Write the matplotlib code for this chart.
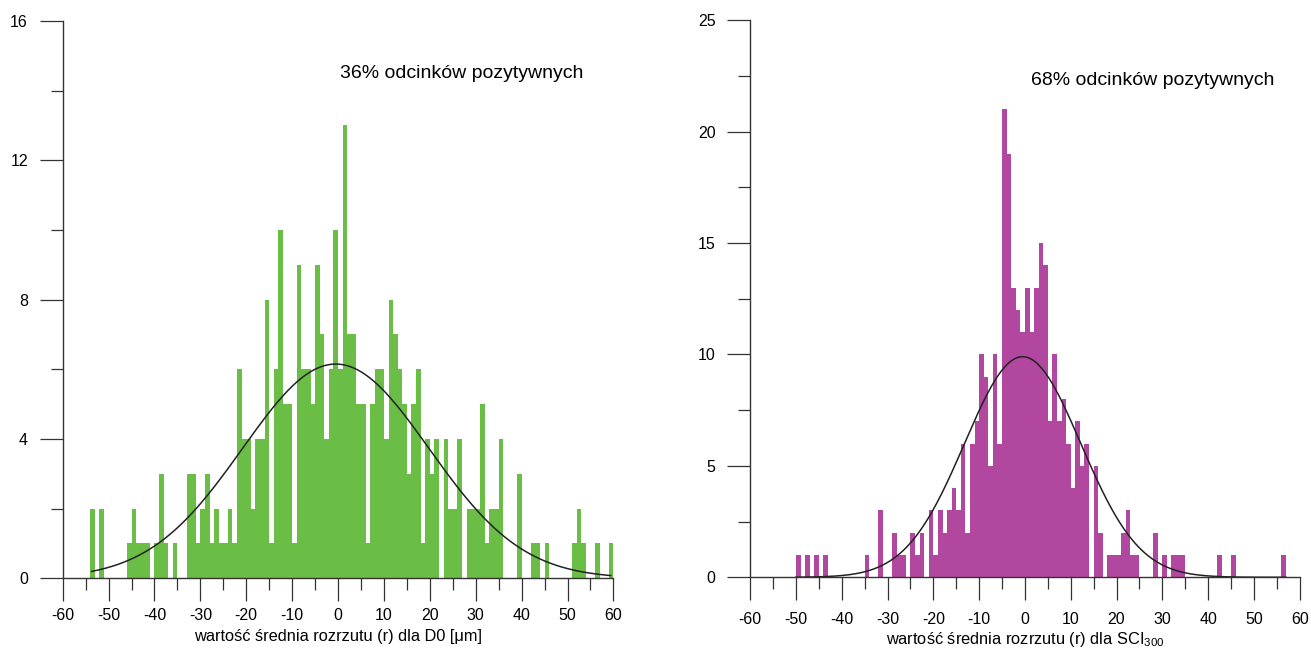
import numpy as np
import matplotlib
matplotlib.use("Agg")
import matplotlib.pyplot as plt
from matplotlib.ticker import MultipleLocator

plt.rcParams["font.family"] = ["Liberation Sans", "DejaVu Sans"]
plt.rcParams["axes.unicode_minus"] = False
plt.rcParams["mathtext.default"] = "regular"

# bin left edges, width 1, from -60 to 59
bins = np.arange(-60, 60)

# D0 histogram counts (bins -60 .. 59)
counts_d0 = [
    0, 0, 0, 0, 0, 0, 2, 0, 2, 0,          # -60..-51
    0, 0, 0, 0, 1, 2, 1, 1, 1, 0,          # -50..-41
    1, 3, 1, 0, 1, 0, 0, 3, 3, 1,          # -40..-31
    2, 3, 1, 2, 1, 1, 2, 1, 6, 4,          # -30..-21
    4, 2, 4, 4, 8, 1, 6, 10, 5, 5,         # -20..-11
    1, 9, 6, 6, 5, 9, 7, 4, 6, 10,         # -10..-1
    6, 13, 7, 7, 5, 5, 1, 5, 6, 6,         # 0..9
    4, 8, 7, 6, 5, 3, 5, 6, 1, 4,          # 10..19
    3, 4, 0, 4, 2, 2, 4, 0, 2, 2,          # 20..29
    2, 5, 1, 2, 2, 4, 0, 0, 0, 3,          # 30..39
    0, 0, 1, 1, 0, 1, 0, 0, 0, 0,          # 40..49
    0, 1, 2, 1, 0, 0, 1, 0, 0, 1,          # 50..59
]

# SCI300 histogram counts (bins -60 .. 59)
counts_sci = [
    0, 0, 0, 0, 0, 0, 0, 0, 0, 0,          # -60..-51
    1, 0, 1, 0, 1, 0, 1, 0, 0, 0,          # -50..-41
    0, 0, 0, 0, 0, 1, 0, 0, 3, 0,          # -40..-31
    0, 2, 1, 1, 0, 2, 1, 2, 0, 3,          # -30..-21
    1, 3, 2, 3, 4, 3, 6, 2, 6, 7,          # -20..-11
    10, 9, 5, 10, 6, 21, 19, 13, 12, 11,   # -10..-1
    13, 11, 13, 15, 14, 7, 10, 7, 8, 6,    # 0..9
    4, 7, 5, 6, 0, 5, 2, 0, 1, 1,          # 10..19
    1, 2, 3, 1, 1, 0, 0, 0, 2, 0,          # 20..29
    1, 0, 1, 1, 1, 0, 0, 0, 0, 0,          # 30..39
    0, 0, 1, 0, 0, 1, 0, 0, 0, 0,          # 40..49
    0, 0, 0, 0, 0, 0, 1, 0, 0, 0,          # 50..59
]

# fitted normal curves: mean, sd, peak height, x range
fit_d0 = dict(mu=-0.5, sd=20.3, peak=6.15, lo=-53.7, hi=59.4)
fit_sci = dict(mu=-0.5, sd=12.7, peak=9.9, lo=-50.0, hi=57.0)

xticks = np.arange(-60, 61, 10)

fig = plt.figure(figsize=(13.11, 6.52), dpi=100)
ax1 = fig.add_axes([0.0478, 0.113, 0.4201, 0.855])
ax2 = fig.add_axes([0.5722, 0.1146, 0.4192, 0.8543])


def draw(ax, counts, fit, color, ymax, ymaj, ymin, xlabel, note, note_xy,
         xpad, lpad):
    ax.bar(bins, counts, width=1.0, align="edge", color=color, linewidth=0)
    xs = np.linspace(fit["lo"], fit["hi"], 300)
    ys = fit["peak"] * np.exp(-(xs - fit["mu"]) ** 2 / (2 * fit["sd"] ** 2))
    ax.plot(xs, ys, color="#222222", lw=1.1)

    ax.set_xlim(-60, 60)
    ax.set_ylim(0, ymax)
    ax.set_xticks(xticks)
    ax.set_xticklabels([str(t) for t in xticks])
    ax.xaxis.set_minor_locator(MultipleLocator(5))
    ax.yaxis.set_major_locator(MultipleLocator(ymaj))
    ax.yaxis.set_minor_locator(MultipleLocator(ymin))
    for s in ["top", "right"]:
        ax.spines[s].set_visible(False)
    for s in ["left", "bottom"]:
        ax.spines[s].set_color("#333333")
        ax.spines[s].set_linewidth(1.0)
    ax.tick_params(which="major", length=16.5, width=0.9, color="#333333",
                   labelsize=11.5)
    ax.tick_params(which="minor", length=8.4, width=0.9, color="#333333")
    ax.tick_params(axis="x", which="major", pad=xpad)
    ax.tick_params(axis="y", which="major", pad=8.5)
    ax.set_xlabel(xlabel, fontsize=11.8, labelpad=lpad)
    ax.text(note_xy[0], note_xy[1], note, fontsize=14, va="center")


draw(ax1, counts_d0, fit_d0, "#6abd45", 16, 4, 2,
     "wartość średnia rozrzutu (r) dla D0 [μm]",
     "36% odcinków pozytywnych", (0.4, 14.5), 5, 4)
draw(ax2, counts_sci, fit_sci, "#b2479f", 25, 5, 2.5,
     "wartość średnia rozrzutu (r) dla SCI$_{300}$",
     "68% odcinków pozytywnych", (1.4, 22.3), 8.5, 2)

fig.savefig("out.png", dpi=100)
